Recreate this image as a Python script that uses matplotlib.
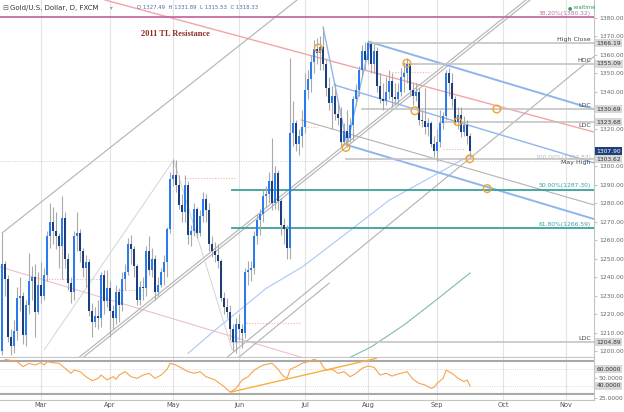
import matplotlib
matplotlib.use('Agg')
import matplotlib.pyplot as plt
import matplotlib.transforms as mtransforms
import numpy as np
import pandas as pd

# daily gold bars, first bar is 11 Feb 2016 (one bar per weekday)
first_day = '2016-02-11'

opens = [1200, 1247, 1239, 1208, 1203, 1211, 1229, 1230, 1209, 1225, 1238, 1240, 1221,
         1236, 1230, 1241, 1262, 1270, 1265, 1262, 1257, 1272, 1250, 1237, 1232, 1262, 1264, 1254, 1245, 1248, 1222, 1216, 1219, 1218, 1241, 1227,
         1234, 1222, 1218, 1232, 1225, 1239, 1243, 1258, 1255, 1246, 1228, 1235, 1234, 1254, 1244, 1250, 1232, 1236, 1243, 1248, 1266,
         1293, 1295, 1290, 1279, 1275, 1290, 1263, 1265, 1277, 1264, 1273, 1282, 1276, 1258, 1254, 1252, 1249, 1229, 1224, 1221, 1212, 1205,
         1215, 1212, 1210, 1243, 1244, 1245, 1262, 1271, 1274, 1284, 1285, 1292, 1280, 1296, 1281, 1268, 1266, 1256, 1318, 1323, 1312, 1316,
         1321, 1341, 1347, 1356, 1363, 1361, 1364, 1355, 1342, 1334, 1338, 1328, 1326, 1313, 1319, 1315, 1322, 1336, 1341, 1352, 1362,
         1357, 1366, 1355, 1362, 1343, 1336, 1335, 1340, 1346, 1337, 1336, 1340, 1348, 1350, 1355, 1341, 1338, 1340, 1325, 1324, 1321, 1323, 1312,
         1308, 1313, 1323, 1327, 1350, 1345, 1336, 1323.68, 1327.49, 1318.33, 1322, 1316]
highs = [1264, 1249, 1241, 1212, 1217, 1235, 1240, 1232, 1228, 1253, 1246, 1247, 1243,
         1248, 1245, 1265, 1280, 1278, 1275, 1264, 1284, 1275, 1253, 1240, 1265, 1275, 1266, 1256, 1252, 1250, 1226, 1224, 1228, 1243, 1244, 1244,
         1238, 1225, 1236, 1234, 1243, 1247, 1261, 1263, 1257, 1247, 1238, 1240, 1257, 1262, 1256, 1252, 1240, 1245, 1252, 1267, 1297,
         1304, 1303, 1295, 1285, 1295, 1292, 1268, 1280, 1278, 1276, 1286, 1285, 1280, 1262, 1259, 1258, 1250, 1232, 1229, 1225, 1215, 1218,
         1220, 1215, 1245, 1249, 1249, 1265, 1274, 1277, 1287, 1289, 1297, 1315, 1300, 1298, 1283, 1272, 1268, 1358, 1335, 1325, 1320, 1330,
         1350, 1352, 1360, 1368, 1369, 1370, 1375, 1358, 1348, 1343, 1345, 1334, 1332, 1323, 1330, 1326, 1338, 1344, 1354, 1365, 1367,
         1368, 1367, 1366, 1364, 1350, 1345, 1348, 1352, 1350, 1345, 1345, 1353, 1356, 1358, 1356, 1345, 1345, 1342, 1330, 1342, 1326, 1324, 1316,
         1320, 1330, 1329, 1352, 1353, 1350, 1338, 1332, 1331.89, 1327, 1325, 1318]
lows = [1198, 1230, 1205, 1198, 1199, 1206, 1222, 1204, 1203, 1220, 1228, 1208, 1220,
        1226, 1228, 1238, 1256, 1258, 1255, 1245, 1239, 1245, 1233, 1226, 1228, 1254, 1248, 1240, 1235, 1219, 1208, 1213, 1212, 1213, 1220, 1224,
        1208, 1212, 1215, 1216, 1222, 1233, 1241, 1247, 1240, 1225, 1225, 1228, 1230, 1241, 1240, 1228, 1230, 1235, 1236, 1240, 1264,
        1289, 1286, 1277, 1270, 1270, 1258, 1257, 1262, 1261, 1262, 1270, 1270, 1254, 1251, 1248, 1245, 1227, 1220, 1218, 1206, 1200, 1199,
        1206, 1202, 1207, 1236, 1238, 1242, 1258, 1263, 1270, 1278, 1280, 1276, 1277, 1276, 1263, 1258, 1250, 1250, 1311, 1308, 1306, 1310,
        1318, 1336, 1340, 1350, 1355, 1352, 1352, 1338, 1330, 1320, 1325, 1322, 1310, 1312, 1310, 1313, 1314, 1333, 1338, 1348, 1352,
        1355, 1350, 1350, 1340, 1334, 1330, 1333, 1336, 1332, 1333, 1334, 1338, 1340, 1345, 1338, 1333, 1335, 1322, 1321, 1317, 1316, 1310, 1305,
        1302.83, 1310, 1320, 1325, 1338, 1332, 1322, 1320, 1315.53, 1316, 1312, 1305]
closes = [1247, 1239, 1208, 1203, 1211, 1229, 1230, 1209, 1225, 1238, 1240, 1221, 1236,
          1230, 1241, 1262, 1270, 1265, 1262, 1257, 1272, 1250, 1237, 1232, 1262, 1264, 1254, 1245, 1248, 1222, 1216, 1219, 1218, 1241, 1227, 1234,
          1222, 1218, 1232, 1225, 1239, 1243, 1258, 1255, 1246, 1228, 1235, 1234, 1254, 1244, 1250, 1232, 1236, 1243, 1248, 1266, 1293,
          1295, 1290, 1279, 1275, 1290, 1263, 1265, 1277, 1264, 1273, 1282, 1276, 1258, 1254, 1252, 1249, 1229, 1224, 1221, 1212, 1204.89, 1215,
          1212, 1210, 1243, 1244, 1245, 1262, 1271, 1274, 1284, 1285, 1292, 1280, 1296, 1281, 1268, 1266, 1256, 1318, 1323, 1312, 1316, 1321,
          1341, 1347, 1356, 1363, 1361, 1364, 1355, 1342, 1334, 1338, 1328, 1326, 1313, 1319, 1315, 1322, 1336, 1341, 1352, 1362, 1357,
          1366.19, 1355, 1362, 1343, 1336, 1335, 1340, 1346, 1337, 1336, 1340, 1348, 1350, 1355.09, 1341, 1338, 1340, 1325, 1324, 1321, 1323, 1312, 1308,
          1313, 1323, 1327, 1350, 1345, 1336, 1323.68, 1327.49, 1318.33, 1322, 1316, 1307.90]

# RSI (bar index, value)
rsi_idx = [1, 5, 7, 9, 11, 13, 14, 15, 17, 19, 21, 23, 24, 26, 28, 30, 32, 33, 35, 37, 38, 39, 41, 43, 45, 47, 49,
           51, 53, 55, 56, 58, 60, 62, 64, 66, 68, 71, 74, 76, 78, 80, 82, 84, 87, 90, 92, 93, 94, 95, 96, 98, 100,
           102, 104, 106, 107, 108, 110, 112, 114, 116, 118, 120, 122, 124, 126, 128, 130, 132, 135, 137, 139, 141,
           143, 144, 145, 147, 148, 150, 152, 154, 155, 156]
rsi_val = [72.2, 69.3, 63.2, 67.3, 65.2, 68.1, 65.2, 69.3, 68.1, 67.3, 61.2, 55.1, 59.1, 57.1, 51.0, 46.1, 49.0, 53.0,
           47.0, 51.0, 47.8, 53.0, 57.1, 51.0, 49.0, 53.0, 55.1, 49.0, 53.0, 59.9, 67.3, 65.2, 61.2, 57.1, 55.1, 57.1,
           51.0, 47.0, 38.8, 32.3, 36.8, 47.0, 51.0, 59.1, 65.2, 67.3, 60.0, 55.0, 51.0, 49.0, 60.0, 63.2, 67.3, 69.3,
           72.2, 69.3, 63.2, 59.1, 59.9, 55.1, 57.1, 51.0, 55.1, 61.2, 64.1, 62.4, 53.0, 55.1, 51.8, 54.3, 57.1, 47.8,
           42.9, 40.9, 36.8, 38.0, 42.9, 49.0, 59.1, 55.1, 49.0, 45.0, 47.0, 39.6]

# moving averages
ma100_idx = [62, 71, 79, 88, 100, 115, 129, 143, 153, 156]
ma100_val = [1199, 1211.5, 1222, 1234, 1245.5, 1264, 1281.5, 1294, 1303, 1305.5]
ma200_idx = [115, 123, 134, 146, 156]
ma200_val = [1196, 1202.4, 1214.3, 1229.4, 1242.3]

# drawn studies, anchors as (bar index, price)
tl_2011 = [(34.3, 1389.5), (197.3, 1318.3)]
tl_2011_low = [(-0.7, 1245.6), (102.7, 1195.4)]
zigzag = [(107, 1374.9), (115, 1311.3), (122.7, 1366.8)]
chan_upper = [(122.7, 1366.8), (197.3, 1330.6)]
chan_mid = [(110.7, 1343.7), (197.3, 1301.7)]
chan_lower = [(115, 1311.3), (197.3, 1271.4)]
gray_desc = [(99.7, 1324.8), (197.3, 1279.0)]
gray_up = [[(0, 1263.9), (98.3, 1389.5)],
           [(27.2, 1197.0), (176.0, 1389.5)],
           [(25.8, 1197.0), (174.6, 1389.5)],
           [(75.1, 1197.0), (197.3, 1359.0)],
           [(79.0, 1197.0), (109.0, 1236.8)]]
faint_zz = [(14, 1200.8), (57.2, 1303.2), (76.7, 1200.8)]
pivot_dots = [(13.7, 32.7, 1239), (38.3, 47, 1233), (60.7, 78, 1293.7), (81.3, 99.7, 1215.5),
              (101, 105, 1321), (129, 143, 1350.8), (147, 154, 1309)]
circle_idx = [105.4, 114.6, 134.9, 137.6, 151.9, 155.9, 161.7, 164.9]
circle_val = [1363.6, 1310.0, 1355.4, 1329.8, 1323.9, 1303.9, 1287.8, 1330.7]
rsi_tl = [(76.3, 32.3), (124.8, 73.4)]

# horizontal levels: (price, first bar, label, label below line?)
levels = [(1366.19, 122, 'High Close', False), (1355.09, 134, 'HDC', False),
          (1330.69, 120, 'LDC', False), (1323.68, 146, 'LDC', True),
          (1303.62, 114.6, 'May High', True), (1204.89, 76.7, 'LDC', False)]
fibs = [(1380.32, '38.20%(1380.32)', -1, '#c66b9f'), (1287.30, '50.00%(1287.30)', 76.7, '#39a09b'),
        (1266.59, '61.80%(1266.59)', 76.7, '#39a09b')]
boxed = [1366.19, 1355.09, 1330.69, 1323.68, 1303.62, 1204.89]
last_price = 1307.90
price_ticks = [1200, 1210, 1220, 1230, 1240, 1250, 1260, 1270, 1280, 1290, 1300,
               1320, 1340, 1350, 1360, 1370, 1380]
rsi_ticks = [25, 50]
rsi_boxed = [60, 40]
months = ['Mar', 'Apr', 'May', 'Jun', 'Jul', 'Aug', 'Sep', 'Oct', 'Nov']

o = np.array(opens, float)
h = np.array(highs, float)
l = np.array(lows, float)
c = np.array(closes, float)
x = np.arange(len(c))

days = pd.bdate_range(first_day, '2016-11-30')
month_pos = [int(np.argmax(days.strftime('%b') == m)) for m in months]

fig = plt.figure(figsize=(6.24, 4.12), dpi=100)
ax = fig.add_axes([0, 0.1335, 0.9519, 0.8665])
axr = fig.add_axes([0, 0.0303, 0.9519, 0.1008], sharex=ax)
x_end = 197.3
ax.set_xlim(-0.7, x_end)
ax.set_ylim(1197.0, 1389.5)
axr.set_ylim(23.2, 73.8)

for a in (ax, axr):
    a.set_xticks(month_pos)
    a.grid(axis='x', color='#e3e3e3', lw=0.8)
    a.set_axisbelow(True)
    for s in ('left', 'top'):
        a.spines[s].set_visible(False)
    for s in ('right', 'bottom'):
        a.spines[s].set_color('#c4c4c4')
    a.yaxis.tick_right()
    a.tick_params(axis='y', labelsize=4.3, colors='#c4c4c4', labelcolor='#666666', length=2, pad=1.5)
ax.tick_params(axis='x', length=0, labelbottom=False)
axr.tick_params(axis='x', length=0, labelsize=4.8, labelcolor='#555555', pad=2)
axr.set_xticklabels(months)

ax.set_yticks(price_ticks)
ax.set_yticklabels(['%.2f' % v for v in price_ticks])

# candles
up = c >= o
body = np.maximum(np.abs(c - o), 0.6)
ax.vlines(x, l, h, color='#a9a9a9', lw=0.8, zorder=3)
ax.bar(x[up], body[up], bottom=o[up], width=0.72, color='#2a7af0', zorder=4)
ax.bar(x[~up], body[~up], bottom=c[~up], width=0.72, color='#1c3e7d', zorder=4)

# moving averages
ax.plot(ma100_idx, ma100_val, color='#a9c8f5', lw=0.8, zorder=2)
ax.plot(ma200_idx, ma200_val, color='#7fbab4', lw=0.8, zorder=2)

# studies
def seg(pts, **kw):
    ax.plot([p[0] for p in pts], [p[1] for p in pts], **kw)

seg(tl_2011, color='#f4a4a4', lw=1.0, zorder=2)
seg(tl_2011_low, color='#ebc0cd', lw=0.8, zorder=2)
for g in gray_up:
    seg(g, color='#b2b2b2', lw=0.8, zorder=2)
seg(gray_desc, color='#b2b2b2', lw=0.8, zorder=2)
seg(faint_zz, color='#d4d4d4', lw=0.7, zorder=2)
seg(zigzag, color='#8fb5ee', lw=1.0, zorder=2)
seg(chan_upper, color='#8fb5ee', lw=1.4, zorder=2)
seg(chan_mid, color='#8fb5ee', lw=1.0, zorder=2)
seg(chan_lower, color='#8fb5ee', lw=1.4, zorder=2)
for x0, x1, p in pivot_dots:
    ax.plot([x0, x1], [p, p], color='#efb5a5', lw=0.8, ls=(0, (1, 1.5)), zorder=2)

# fib levels
ax.axhline(1302.83, color='#cfcfcf', lw=0.7, ls=(0, (1, 1.5)), zorder=2)
ax.text(196.3, 1302.83 + 0.6, '100.00%(1302.83)', fontsize=4.3, color='#b8b8b8', ha='right', va='bottom')
for p, lab, start, col in fibs:
    x0 = -0.7 if start < 0 else start
    ax.plot([x0, x_end], [p, p], color=col, lw=1.3, zorder=2)
    ax.text(196.3, p + 0.6, lab, fontsize=4.3, color=col, ha='right', va='bottom')

# horizontal levels
for p, start, lab, below in levels:
    ax.plot([start, x_end], [p, p], color='#c4c4c4', lw=1.2, zorder=2)
    ax.text(196.3, p - 0.6 if below else p + 0.6, lab, fontsize=4.5, color='#444444',
            ha='right', va='top' if below else 'bottom')

ax.scatter(circle_idx, circle_val, s=30, facecolors='none', edgecolors='#f5a125', lw=1.0, zorder=6)

# right axis boxes
tr = mtransforms.blended_transform_factory(ax.transAxes, ax.transData)
for p in boxed:
    ax.text(1.004, p, '%.2f' % p, transform=tr, fontsize=4.3, color='#333333', ha='left', va='center',
            bbox=dict(boxstyle='square,pad=0.25', fc='#d8d8d8', ec='none'), clip_on=False, zorder=10)
ax.text(1.004, last_price, '%.2f' % last_price, transform=tr, fontsize=4.3, color='white', ha='left',
        va='center', bbox=dict(boxstyle='square,pad=0.25', fc='#1d3f7c', ec='none'), clip_on=False, zorder=11)

# header
ax.text(0.004, 0.978, '\u229f', transform=ax.transAxes, fontsize=5, color='#666666', va='center')
ax.text(0.017, 0.978, 'Gold/U.S. Dollar, D, FXCM', transform=ax.transAxes, fontsize=5, color='#333333', va='center')
ax.text(0.186, 0.978, '\u25be', transform=ax.transAxes, fontsize=4, color='#999999', va='center')
ax.text(0.231, 0.978, 'O 1327.49  H 1331.89  L 1315.53  C 1318.33', transform=ax.transAxes,
        fontsize=3.9, color='#4a6fa8', va='center')
ax.text(0.955, 0.978, '\u25cf', transform=ax.transAxes, fontsize=3.5, color='#2ca05a', va='center')
ax.text(0.965, 0.978, 'realtime', transform=ax.transAxes, fontsize=3.9, color='#2ca05a', va='center')
ax.text(0.296, 0.905, '2011 TL Resistance', transform=ax.transAxes, fontsize=6, color='#8b2d20',
        fontweight='bold', family='Liberation Serif', ha='center', va='center')

# RSI panel
axr.axhline(70, color='#a8a8a8', lw=1.5)
axr.axhline(30, color='#a8a8a8', lw=1.5)
axr.axhline(60, color='#d0d0d0', lw=0.6, ls=(0, (1, 1.5)))
axr.axhline(40, color='#d0d0d0', lw=0.6, ls=(0, (1, 1.5)))
axr.plot(rsi_idx, rsi_val, color='#f5a44c', lw=0.8, zorder=3)
axr.plot([p[0] for p in rsi_tl], [p[1] for p in rsi_tl], color='#f8b03c', lw=1.0, zorder=3)
axr.set_yticks(rsi_ticks)
axr.set_yticklabels(['%.4f' % v for v in rsi_ticks])
trr = mtransforms.blended_transform_factory(axr.transAxes, axr.transData)
for v in rsi_boxed:
    axr.text(1.004, v, '%.4f' % v, transform=trr, fontsize=4.3, color='#333333', ha='left', va='center',
             bbox=dict(boxstyle='square,pad=0.25', fc='#d8d8d8', ec='none'), clip_on=False, zorder=10)

fig.savefig('out.png', dpi=100, facecolor='white')
